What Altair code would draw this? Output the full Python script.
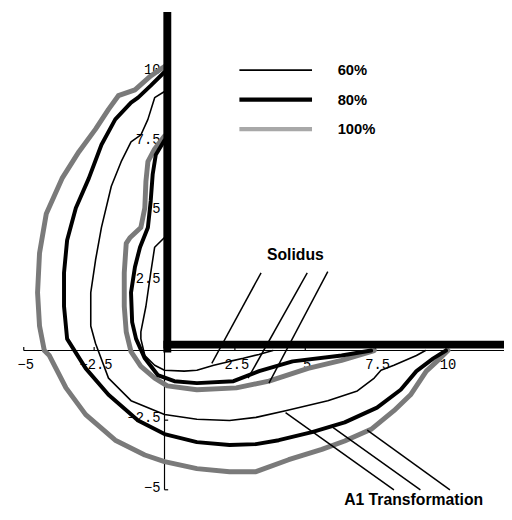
import altair as alt
import pandas as pd

# ---- contour curves (data units) ----
# 60% heat input (thin)
sol60_x = [0.0, -0.35, -0.49, -0.66, -0.84, -0.84, -0.70, -0.35, 0.0, 0.70, 1.15, 1.75, 2.31, 2.80, 3.35, 3.85]
sol60_y = [4.06, 3.71, 2.79, 1.59, 0.67, 0.42, -0.18, -0.53, -0.71, -0.74, -0.71, -0.53, -0.39, -0.28, -0.14, 0.0]
a160_x = [0.0, -0.35, -0.59, -0.84, -1.19, -1.54, -1.89, -2.24, -2.45, -2.62, -2.62, -2.45, -1.99, -1.19, 0.0,
          1.15, 2.31, 3.25, 4.30, 5.80, 6.85, 7.45, 7.69, 8.15, 8.95, 9.27]
a160_y = [9.30, 9.08, 8.30, 7.74, 7.49, 6.78, 5.90, 4.42, 3.25, 2.08, 0.88, 0.25, -0.99, -1.80, -2.30,
          -2.47, -2.51, -2.40, -2.16, -1.80, -1.45, -0.99, -0.71, -0.53, -0.18, 0.0]
# 80% heat input (thick)
sol80_x = [0.0, -0.31, -0.42, -0.49, -0.59, -0.87, -1.05, -1.19, -1.15, -1.01, -0.70, -0.24, 0.35, 1.15, 2.45,
           3.36, 4.55, 6.29, 7.34]
sol80_y = [7.55, 7.03, 6.33, 5.37, 4.42, 3.71, 3.00, 2.08, 1.02, 0.42, -0.28, -0.88, -1.10, -1.17, -1.10,
           -0.74, -0.39, -0.18, 0.0]
a180_x = [0.0, -0.49, -0.94, -1.19, -1.75, -2.24, -2.69, -3.15, -3.46, -3.57, -3.57, -3.46, -2.80, -1.99, -0.94,
          0.0, 1.15, 2.31, 3.25, 4.06, 5.24, 6.40, 7.55, 8.39, 8.95, 9.55, 10.0]
a180_y = [10.0, 9.51, 9.08, 8.90, 8.30, 7.39, 6.18, 5.12, 3.96, 2.79, 1.59, 0.42, -0.64, -1.59, -2.51,
          -3.00, -3.29, -3.39, -3.36, -3.22, -2.93, -2.58, -2.05, -1.41, -0.74, -0.28, 0.0]
# 100% heat input (gray)
sol100_x = [0.0, -0.35, -0.59, -0.66, -0.70, -0.84, -1.22, -1.36, -1.43, -1.43, -1.36, -1.19, -0.84, -0.35,
            0.10, 1.15, 2.55, 3.71, 5.10, 6.29, 7.45]
sol100_y = [7.70, 7.24, 6.78, 6.08, 5.12, 4.42, 4.06, 3.85, 2.79, 1.59, 0.67, -0.04, -0.57, -0.99,
            -1.27, -1.41, -1.34, -1.10, -0.64, -0.35, 0.0]
a1100_x = [0.0, -0.49, -1.05, -1.64, -1.99, -2.45, -3.04, -3.64, -4.20, -4.44, -4.51, -4.44, -4.27, -4.09, -3.50,
           -2.80, -1.75, -0.70, 0.0, 1.15, 2.31, 3.25, 4.41, 5.59, 6.40, 7.34, 8.15, 8.74, 9.30, 9.79, 10.07]
a1100_y = [10.20, 9.86, 9.36, 9.15, 8.66, 7.95, 7.14, 6.18, 4.91, 3.50, 2.08, 0.88, 0.0, -0.18, -1.34,
           -2.30, -3.22, -3.75, -3.99, -4.24, -4.35, -4.35, -3.92, -3.55, -3.25, -2.83, -2.16, -1.59, -0.74, -0.28, 0.0]

# ---- axes ----
x_ticks = [-5, -2.5, 2.5, 5, 7.5, 10]
x_tick_labels = ["−5", "−2.5", "2.5", "5", "7.5", "10"]
y_ticks = [10, 7.5, 5, 2.5, -2.5, -5]
y_tick_labels = ["10", "7.5", "5", "2.5", "−2.5", "−5"]

# ---- legend ----
legend_labels = ["60%", "80%", "100%"]

# ---- annotation leader lines ----
solidus_x1 = [3.43, 5.07, 5.80]
solidus_y1 = [2.79, 2.79, 2.83]
solidus_x2 = [1.68, 2.97, 3.71]
solidus_y2 = [-0.46, -0.99, -1.17]
a1_x1 = [4.30, 5.98, 7.20]
a1_y1 = [-2.23, -2.76, -2.86]
a1_x2 = [8.15, 9.09, 10.14]
a1_y2 = [-5.0, -5.0, -5.0]

XS = alt.Scale(domain=[-5.56, 12.06], nice=False, zero=False)
YS = alt.Scale(domain=[-5.654, 12.155], nice=False, zero=False)


def curve_df(pairs):
    rows = []
    for name, xs, ys in pairs:
        for i, (a, b) in enumerate(zip(xs, ys)):
            rows.append({"curve": name, "i": i, "x": a, "y": b})
    return pd.DataFrame(rows)


def curve_layer(df, color, width):
    return alt.Chart(df).mark_line(color=color, strokeWidth=width, strokeCap="round",
                                   strokeJoin="round").encode(
        x=alt.X("x:Q", scale=XS, axis=None),
        y=alt.Y("y:Q", scale=YS, axis=None),
        detail="curve:N",
        order="i:Q",
    )


thin_df = curve_df([("sol60", sol60_x, sol60_y), ("a160", a160_x, a160_y)])
thick_df = curve_df([("sol80", sol80_x, sol80_y), ("a180", a180_x, a180_y)])
gray_df = curve_df([("sol100", sol100_x, sol100_y), ("a1100", a1100_x, a1100_y)])


def seg_layer(df, color, width, cap="butt"):
    return alt.Chart(df).mark_rule(color=color, strokeWidth=width, strokeCap=cap).encode(
        x=alt.X("x1:Q", scale=XS, axis=None),
        x2="x2:Q",
        y=alt.Y("y1:Q", scale=YS, axis=None),
        y2="y2:Q",
    )


axes_df = pd.DataFrame({"x1": [-5, 0], "x2": [12.1, 0], "y1": [0, -5], "y2": [0, 12.2]})
ytick_df = pd.DataFrame({"x1": [0] * len(y_ticks), "x2": [0.13] * len(y_ticks), "y1": y_ticks, "y2": y_ticks})
xtick_df = pd.DataFrame({"x1": x_ticks, "x2": x_ticks, "y1": [0] * len(x_ticks), "y2": [0.13] * len(x_ticks)})

xlab_df = pd.DataFrame({"x": x_ticks, "y": [0] * len(x_ticks), "t": x_tick_labels})
ylab_df = pd.DataFrame({"x": [0] * len(y_ticks), "y": y_ticks, "t": y_tick_labels})

mono = "Liberation Mono"
xlabels = alt.Chart(xlab_df).mark_text(font=mono, fontSize=14, baseline="middle", align="center",
                                       dy=15, dx=2, color="black").encode(
    x=alt.X("x:Q", scale=XS, axis=None), y=alt.Y("y:Q", scale=YS, axis=None), text="t:N")
ylabels = alt.Chart(ylab_df).mark_text(font=mono, fontSize=14, baseline="middle", align="right",
                                       dx=-4, dy=-2, color="black").encode(
    x=alt.X("x:Q", scale=XS, axis=None), y=alt.Y("y:Q", scale=YS, axis=None), text="t:N")

# plate (thick L)
plate_df = pd.DataFrame({"x1": [0.1, 0.1], "x2": [0.1, 12.3], "y1": [12.08, 0.21], "y2": [0.07, 0.21]})

# legend
leg_y = [10.07, 9.01, 7.95]
leg_thin = pd.DataFrame({"x1": [2.66], "x2": [5.24], "y1": [leg_y[0]], "y2": [leg_y[0]]})
leg_thick = pd.DataFrame({"x1": [2.66], "x2": [5.24], "y1": [leg_y[1]], "y2": [leg_y[1]]})
leg_gray = pd.DataFrame({"x1": [2.66], "x2": [5.24], "y1": [leg_y[2]], "y2": [leg_y[2]]})
leg_txt_df = pd.DataFrame({"x": [6.15] * 3, "y": leg_y, "t": legend_labels})
leg_text = alt.Chart(leg_txt_df).mark_text(font="Liberation Sans", fontWeight="bold", fontSize=15,
                                           align="left", baseline="middle", color="black").encode(
    x=alt.X("x:Q", scale=XS, axis=None), y=alt.Y("y:Q", scale=YS, axis=None), text="t:N")

sol_df = pd.DataFrame({"x1": solidus_x1, "y1": solidus_y1, "x2": solidus_x2, "y2": solidus_y2})
a1_df = pd.DataFrame({"x1": a1_x1, "y1": a1_y1, "x2": a1_x2, "y2": a1_y2})

ann_df = pd.DataFrame({"x": [4.65, 8.85], "y": [3.43, -5.36], "t": ["Solidus", "A1 Transformation"]})
ann_text = alt.Chart(ann_df).mark_text(font="Liberation Sans", fontWeight="bold", fontSize=16,
                                       align="center", baseline="middle", color="black").encode(
    x=alt.X("x:Q", scale=XS, axis=None), y=alt.Y("y:Q", scale=YS, axis=None), text="t:N")

chart = alt.layer(
    seg_layer(axes_df, "black", 1.2),
    seg_layer(ytick_df, "black", 1.2),
    seg_layer(xtick_df, "black", 1.2),
    xlabels,
    ylabels,
    curve_layer(gray_df, "#7a7a7a", 5),
    curve_layer(thin_df, "black", 1.6),
    curve_layer(thick_df, "black", 4),
    seg_layer(sol_df, "black", 1.5),
    seg_layer(a1_df, "black", 1.5),
    seg_layer(plate_df, "black", 8, cap="square"),
    seg_layer(leg_thin, "black", 1.8),
    seg_layer(leg_thick, "black", 4.5),
    seg_layer(leg_gray, "#a8a8a8", 4.5),
    leg_text,
    ann_text,
).properties(
    width=504, height=504, padding=0, autosize=alt.AutoSizeParams(type="none")
).configure_view(stroke=None, clip=True)

chart.save("out.html", embed_options={"renderer": "svg", "actions": False})
